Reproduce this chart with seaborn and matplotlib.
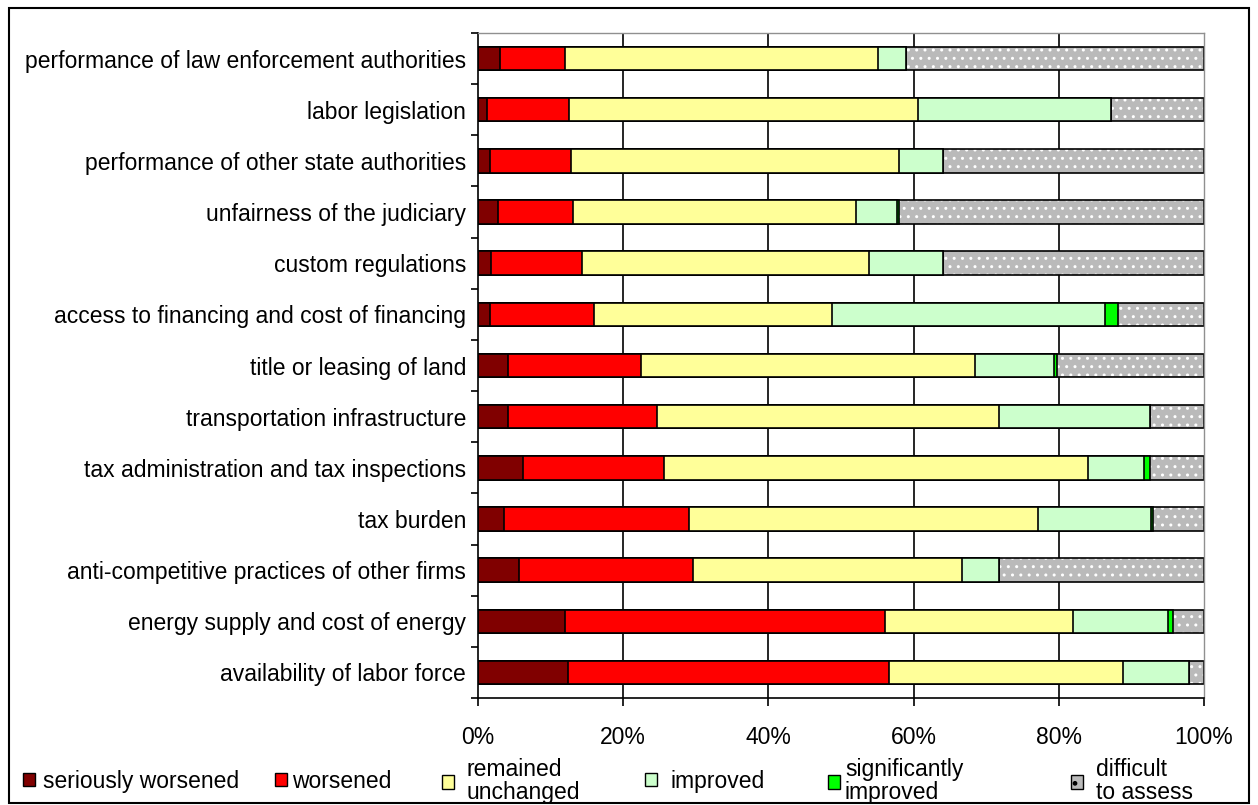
import numpy as np
import pandas as pd
import matplotlib
matplotlib.use("Agg")
import matplotlib.pyplot as plt
from matplotlib.patches import Patch, Rectangle
import seaborn as sns

# categories, top to bottom
categories = [
    "performance of law enforcement authorities",
    "labor legislation",
    "performance of other state authorities",
    "unfairness of the judiciary",
    "custom regulations",
    "access to financing and cost of financing",
    "title or leasing of land",
    "transportation infrastructure",
    "tax administration and tax inspections",
    "tax burden",
    "anti-competitive practices of other firms",
    "energy supply and cost of energy",
    "availability of labor force",
]

# shares in %, one list per answer
seriously_worsened = [3.0, 1.3, 1.6, 2.8, 1.8, 1.6, 4.2, 4.2, 6.2, 3.6, 5.7, 12.0, 12.4]
worsened = [9.0, 11.2, 11.2, 10.3, 12.5, 14.4, 18.2, 20.5, 19.4, 25.5, 23.9, 44.0, 44.2]
remained_unchanged = [43.1, 48.1, 45.2, 39.0, 39.6, 32.7, 46.0, 47.1, 58.4, 48.1, 37.0, 26.0, 32.3]
improved = [3.9, 26.6, 6.1, 5.6, 10.2, 37.7, 10.9, 20.8, 7.8, 15.5, 5.2, 13.0, 9.0]
significantly_improved = [0.0, 0.0, 0.0, 0.3, 0.0, 1.8, 0.4, 0.0, 0.7, 0.3, 0.0, 0.7, 0.0]
difficult_to_assess = [41.0, 12.8, 35.9, 42.0, 35.9, 11.8, 20.3, 7.4, 7.5, 7.0, 28.2, 4.3, 2.1]

series_names = ["seriously worsened", "worsened", "remained\nunchanged",
                "improved", "significantly\nimproved", "difficult\nto assess"]
series_colors = ["#800000", "#ff0000", "#ffff99", "#ccffcc", "#00ff00", "#bababa"]

df = pd.DataFrame({
    "category": categories,
    "seriously worsened": seriously_worsened,
    "worsened": worsened,
    "remained\nunchanged": remained_unchanged,
    "improved": improved,
    "significantly\nimproved": significantly_improved,
    "difficult\nto assess": difficult_to_assess,
})
cum = df[series_names].cumsum(axis=1)

sns.set_style("white")
plt.rcParams["font.family"] = ["Liberation Sans", "DejaVu Sans"]
plt.rcParams["text.color"] = "black"
plt.rcParams["xtick.color"] = "black"
plt.rcParams["ytick.color"] = "black"
plt.rcParams["axes.labelcolor"] = "black"
FS = 16.5
FS_PX = FS * 100 / 72

W, H = 1258, 805
fig, ax = plt.subplots(figsize=(W / 100, H / 100), dpi=100)
fig.subplots_adjust(left=478 / W, right=1204 / W, bottom=1 - 698 / H, top=1 - 33 / H)

BAR_W = 0.46
LW = 1.2

# draw stacked bars as layered cumulative totals, longest first
for i in range(len(series_names) - 1, -1, -1):
    name = series_names[i]
    n_before = len(ax.patches)
    sns.barplot(x=cum[name], y=df["category"], orient="h", color=series_colors[i],
                saturation=1, width=BAR_W, edgecolor="black", linewidth=LW, ax=ax)
    if i == len(series_names) - 1:
        # dotted pattern for "difficult to assess"
        for p in ax.patches[n_before:]:
            p.set_hatch("..")
            p.set_edgecolor("white")
            p.set_linewidth(0)
        sns.barplot(x=cum[name], y=df["category"], orient="h", color="black",
                    fill=False, width=BAR_W, linewidth=LW, ax=ax)

ax.set_xlim(0, 100)
ax.set_ylim(len(categories) - 0.5, -0.5)
ax.set_xlabel("")
ax.set_ylabel("")

# x axis
ax.set_xticks(np.arange(0, 101, 20), labels=[f"{v}%" for v in range(0, 101, 20)])
ax.tick_params(axis="x", direction="out", length=6, width=1.2, color="black",
               pad=14, labelsize=FS, bottom=True, labelcolor="black")
ax.xaxis.grid(True, color="black", linewidth=1.2)
ax.set_axisbelow(True)
gl = ax.get_xgridlines()
gl[0].set_visible(False)
gl[-1].set_visible(False)

# y axis: ticks between categories, labels at centers
ax.set_yticks(np.arange(-0.5, len(categories)), labels=[])
ax.set_yticks(np.arange(len(categories)), labels=categories, minor=True)
ax.tick_params(axis="y", which="major", direction="out", length=5, width=1.2,
               color="black", left=True)
ax.tick_params(axis="y", which="minor", length=0, pad=8.5, labelsize=FS,
               labelcolor="black")

for side in ["left", "bottom"]:
    ax.spines[side].set_color("black")
    ax.spines[side].set_linewidth(1.2)
for side in ["top", "right"]:
    ax.spines[side].set_color("#909090")
    ax.spines[side].set_linewidth(1.0)

# legend, one entry per block as in the original layout
marker_left = [23, 275, 442, 645, 828, 1071]
text_left = [43, 292, 466, 671, 845, 1096]
legend_y = 781
for i, name in enumerate(series_names):
    handle = Patch(facecolor=series_colors[i], edgecolor="black", linewidth=1,
                   hatch="." if i == 5 else None)
    leg = fig.legend(handles=[handle], labels=[name], loc="center left",
                     bbox_to_anchor=(marker_left[i] / W, 1 - legend_y / H),
                     frameon=False, borderpad=0, borderaxespad=0,
                     handlelength=12 / FS_PX, handleheight=12 / FS_PX,
                     handletextpad=(text_left[i] - marker_left[i] - 12) / FS_PX,
                     fontsize=FS)
    for t in leg.get_texts():
        t.set_linespacing(1.0)
        t.set_color("black")

# outer chart frame
fig.patches.append(Rectangle((9 / W, 2 / H), (1249 - 9) / W, (797 - 2) / H,
                             transform=fig.transFigure, fill=False,
                             edgecolor="black", linewidth=1.5))

fig.savefig("out.png", dpi=100)
